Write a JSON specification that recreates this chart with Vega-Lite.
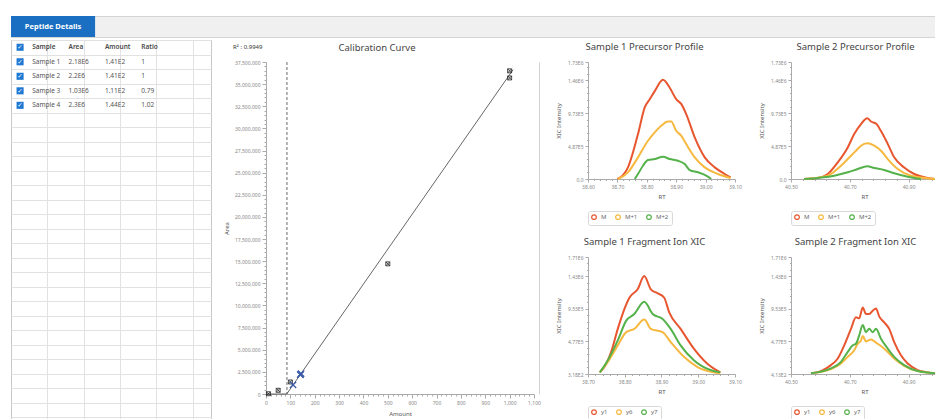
{
  "$schema": "https://vega.github.io/schema/vega-lite/v6.json",
  "padding": {"left": 10, "top": 15, "right": 0, "bottom": 0},
  "background": "white",
  "config": {
    "font": "Noto Sans",
    "view": {"stroke": null},
    "axis": {"labelFontSize": 5, "labelColor": "#888", "titleFontSize": 6, "titleFontWeight": "normal", "titleColor": "#555", "domainColor": "#aaa", "tickColor": "#aaa", "grid": false, "labelFlush": false, "labelOverlap": false},
    "title": {"fontSize": 9.5, "fontWeight": "normal", "color": "#444"},
    "legend": {"title": null, "orient": "bottom", "direction": "horizontal", "symbolType": "circle", "symbolSize": 22, "symbolStrokeWidth": 1.2, "labelFontSize": 6, "labelColor": "#666", "strokeColor": "#d8d8d8", "padding": 3, "cornerRadius": 2, "columnPadding": 6, "offset": 12}
  },
  "spacing": 1,
  "resolve": {"scale": {"color": "independent"}, "legend": {"color": "independent"}},
  "vconcat": [
    {
      "width": 925, "height": 21,
      "view": {"fill": "#f0f0f0", "stroke": "#d4d4d4"},
      "data": {"values": [{"tab": "Peptide Details"}]},
      "encoding": {"x": {"field": "tab", "type": "nominal", "scale": {"domain": ["Peptide Details", "a", "b", "c", "d", "e", "f", "g", "h", "i", "j"], "paddingInner": 0, "paddingOuter": 0}, "axis": null}},
      "layer": [
        {"mark": {"type": "rect", "color": "#1b6fc2"}},
        {"mark": {"type": "text", "color": "white", "fontWeight": "bold", "fontSize": 7.5}, "encoding": {"text": {"field": "tab"}}}
      ]
    },
    {
      "hconcat": [
        {
          "width": 200, "height": 392,
          "view": {"stroke": "#c8c8c8"},
          "data": {"values": [
            {"r": 0, "c": "chk", "t": "✓"}, {"r": 0, "c": "Sample", "t": "Sample"}, {"r": 0, "c": "Area", "t": "Area"}, {"r": 0, "c": "Amount", "t": "Amount"}, {"r": 0, "c": "Ratio", "t": "Ratio"},
            {"r": 1, "c": "chk", "t": "✓"}, {"r": 1, "c": "Sample", "t": "Sample 1"}, {"r": 1, "c": "Area", "t": "2.18E6"}, {"r": 1, "c": "Amount", "t": "1.41E2"}, {"r": 1, "c": "Ratio", "t": "1"},
            {"r": 2, "c": "chk", "t": "✓"}, {"r": 2, "c": "Sample", "t": "Sample 2"}, {"r": 2, "c": "Area", "t": "2.2E6"}, {"r": 2, "c": "Amount", "t": "1.41E2"}, {"r": 2, "c": "Ratio", "t": "1"},
            {"r": 3, "c": "chk", "t": "✓"}, {"r": 3, "c": "Sample", "t": "Sample 3"}, {"r": 3, "c": "Area", "t": "1.03E6"}, {"r": 3, "c": "Amount", "t": "1.11E2"}, {"r": 3, "c": "Ratio", "t": "0.79"},
            {"r": 4, "c": "chk", "t": "✓"}, {"r": 4, "c": "Sample", "t": "Sample 4"}, {"r": 4, "c": "Area", "t": "2.3E6"}, {"r": 4, "c": "Amount", "t": "1.44E2"}, {"r": 4, "c": "Ratio", "t": "1.02"}
          ]},
          "encoding": {
            "x": {"field": "c", "type": "nominal", "scale": {"domain": ["chk", "Sample", "_s", "Area", "_a", "Amount", "_m", "Ratio", "_r", "_e1", "_e2"], "paddingInner": 0, "paddingOuter": 0},
                  "axis": {"title": null, "labels": false, "ticks": false, "domain": false, "grid": true, "tickBand": "extent", "gridColor": "#e2e2e2", "orient": "top",
                           "gridOpacity": {"condition": {"test": "indexof(['Sample','Area','Amount','Ratio','_e1'], datum.value) >= 0", "value": 1}, "value": 0}}},
            "y": {"field": "r", "type": "ordinal", "scale": {"domain": [0,1,2,3,4,5,6,7,8,9,10,11,12,13,14,15,16,17,18,19,20,21,22,23,24,25,26], "paddingInner": 0, "paddingOuter": 0},
                  "axis": {"title": null, "labels": false, "ticks": false, "domain": false, "grid": true, "tickBand": "extent", "gridColor": "#e2e2e2"}}
          },
          "layer": [
            {"transform": [{"filter": "datum.c == 'chk'"}], "mark": {"type": "point", "shape": "square", "filled": true, "color": "#1f78d1", "size": 50, "opacity": 1}},
            {"transform": [{"filter": "datum.c == 'chk'"}], "mark": {"type": "text", "color": "white", "fontSize": 6.5, "fontWeight": "bold", "font": "DejaVu Sans"}, "encoding": {"text": {"field": "t"}}},
            {"transform": [{"filter": "datum.r == 0 && datum.c != 'chk'"}], "mark": {"type": "text", "align": "left", "dx": 3, "fontSize": 6.5, "fontWeight": 600, "color": "#4a4a4a"},
             "encoding": {"x": {"field": "c", "type": "nominal", "bandPosition": 0}, "text": {"field": "t"}}},
            {"transform": [{"filter": "datum.r > 0 && datum.c != 'chk'"}], "mark": {"type": "text", "align": "left", "dx": 3, "fontSize": 6.5, "color": "#555"},
             "encoding": {"x": {"field": "c", "type": "nominal", "bandPosition": 0}, "text": {"field": "t"}}}
          ]
        },
        {
          "vconcat": [
            {"width": 1, "height": 1, "data": {"values": [{}]}, "mark": {"type": "point", "size": 0, "opacity": 0}},
            {
              "hconcat": [
                {
                  "width": 268, "height": 332,
                  "title": {"text": "Calibration Curve", "offset": -9, "dx": -23},
                  "resolve": {"scale": {"y": "independent"}, "axis": {"y": "independent"}},
                  "layer": [
                    {
                      "layer": [
                        {
                          "data": {"values": [{"amount": 0, "area": 0}, {"amount": 85, "area": 0}, {"amount": 1014, "area": 36630000}]},
                          "mark": {"type": "line", "color": "#555", "strokeWidth": 0.9},
                          "encoding": {
                            "x": {"field": "amount", "type": "quantitative", "title": "Amount", "scale": {"domain": [0, 1100], "nice": false},
                                  "axis": {"tickCount": 55, "labelExpr": "datum.value % 100 == 0 ? format(datum.value, ',') : ''", "tickSize": {"condition": {"test": "datum.value % 100 == 0", "value": 4}, "value": 2}, "labelPadding": 2, "titlePadding": 5}},
                            "y": {"field": "area", "type": "quantitative", "title": "Area", "scale": {"domain": [0, 37500000], "nice": false},
                                  "axis": {"tickCount": 75, "labelExpr": "datum.value % 2500000 == 0 ? format(datum.value, ',') : ''", "tickSize": {"condition": {"test": "datum.value % 2500000 == 0", "value": 4}, "value": 2}, "labelPadding": 2, "titlePadding": 5}}
                          }
                        },
                        {
                          "data": {"values": [{}]},
                          "mark": {"type": "rule", "color": "#444", "strokeDash": [3, 2], "strokeWidth": 0.8},
                          "encoding": {"x": {"datum": 86, "type": "quantitative", "title": "Amount", "scale": {"domain": [0, 1100], "nice": false}}}
                        },
                        {
                          "data": {"values": [{"amount": 10, "area": 30000}, {"amount": 50, "area": 420000}, {"amount": 100, "area": 1360000}, {"amount": 500, "area": 14700000}, {"amount": 1000, "area": 35700000}, {"amount": 1000, "area": 36500000}]},
                          "mark": {"type": "point", "shape": "M-1,-1L1,1M1,-1L-1,1M-1,-1L1,-1L1,1L-1,1Z", "filled": false, "color": "#222", "size": 16, "strokeWidth": 0.8, "opacity": 1},
                          "encoding": {"x": {"field": "amount", "type": "quantitative", "title": "Amount", "scale": {"domain": [0, 1100], "nice": false}}, "y": {"field": "area", "type": "quantitative", "title": "Area", "scale": {"domain": [0, 37500000], "nice": false}}}
                        },
                        {
                          "data": {"values": [{"sample": "Sample 1", "amount": 141, "area": 2180000}, {"sample": "Sample 2", "amount": 141, "area": 2200000}, {"sample": "Sample 3", "amount": 111, "area": 1030000}, {"sample": "Sample 4", "amount": 144, "area": 2300000}]},
                          "mark": {"type": "point", "shape": "M-1,-1L1,1M1,-1L-1,1", "filled": false, "color": "#3b5ca8", "size": 40, "strokeWidth": 1.3, "opacity": 1},
                          "encoding": {"x": {"field": "amount", "type": "quantitative", "title": "Amount", "scale": {"domain": [0, 1100], "nice": false}}, "y": {"field": "area", "type": "quantitative", "title": "Area", "scale": {"domain": [0, 37500000], "nice": false}}}
                        },
                        {
                          "data": {"values": [{}]},
                          "mark": {"type": "text", "text": "R² : 0.9949", "align": "left", "baseline": "middle", "fontSize": 6, "color": "#333"},
                          "encoding": {"x": {"datum": -135, "type": "quantitative", "title": "Amount", "scale": {"domain": [0, 1100], "nice": false}}, "y": {"datum": 39200000, "type": "quantitative", "title": "Area", "scale": {"domain": [0, 37500000], "nice": false}}}
                        }
                      ]
                    },
                    {
                      "data": {"values": [{}]},
                      "mark": {"type": "rule", "opacity": 0},
                      "encoding": {"y": {"datum": 0, "type": "quantitative", "scale": {"domain": [0, 1]}, "axis": {"orient": "right", "offset": 5, "labels": false, "ticks": false, "title": null, "domainColor": "#d2d2d2", "domainWidth": 1}}}
                    }
                  ]
                },
                {
                  "spacing": 10,
                  "resolve": {"scale": {"color": "independent"}, "legend": {"color": "independent"}},
                  "vconcat": [
                    {
                      "spacing": 16,
                      "resolve": {"scale": {"color": "independent"}, "legend": {"color": "independent"}},
                      "hconcat": [
                        {
                          "width": 147, "height": 117,
                          "title": {"text": "Sample 1 Precursor Profile", "offset": 9, "dx": -17},
                          "data": {"values": [
                            {"ion": "M", "rt": 38.70, "v": 0}, {"ion": "M", "rt": 38.736, "v": 172000}, {"ion": "M", "rt": 38.770, "v": 664000}, {"ion": "M", "rt": 38.793, "v": 1060000}, {"ion": "M", "rt": 38.810, "v": 1180000}, {"ion": "M", "rt": 38.827, "v": 1300000}, {"ion": "M", "rt": 38.855, "v": 1466000}, {"ion": "M", "rt": 38.878, "v": 1350000}, {"ion": "M", "rt": 38.900, "v": 1180000}, {"ion": "M", "rt": 38.917, "v": 1110000}, {"ion": "M", "rt": 38.934, "v": 960000}, {"ion": "M", "rt": 38.963, "v": 615000}, {"ion": "M", "rt": 38.997, "v": 320000}, {"ion": "M", "rt": 39.031, "v": 172000}, {"ion": "M", "rt": 39.065, "v": 74000}, {"ion": "M", "rt": 39.085, "v": 25000},
                            {"ion": "M+1", "rt": 38.702, "v": 0}, {"ion": "M+1", "rt": 38.736, "v": 99000}, {"ion": "M+1", "rt": 38.770, "v": 320000}, {"ion": "M+1", "rt": 38.804, "v": 566000}, {"ion": "M+1", "rt": 38.827, "v": 689000}, {"ion": "M+1", "rt": 38.849, "v": 787000}, {"ion": "M+1", "rt": 38.872, "v": 851000}, {"ion": "M+1", "rt": 38.883, "v": 851000}, {"ion": "M+1", "rt": 38.900, "v": 713000}, {"ion": "M+1", "rt": 38.917, "v": 640000}, {"ion": "M+1", "rt": 38.934, "v": 517000}, {"ion": "M+1", "rt": 38.963, "v": 320000}, {"ion": "M+1", "rt": 38.997, "v": 172000}, {"ion": "M+1", "rt": 39.042, "v": 74000}, {"ion": "M+1", "rt": 39.085, "v": 15000},
                            {"ion": "M+2", "rt": 38.759, "v": 0}, {"ion": "M+2", "rt": 38.770, "v": 74000}, {"ion": "M+2", "rt": 38.787, "v": 196000}, {"ion": "M+2", "rt": 38.804, "v": 280000}, {"ion": "M+2", "rt": 38.827, "v": 295000}, {"ion": "M+2", "rt": 38.855, "v": 330000}, {"ion": "M+2", "rt": 38.878, "v": 295000}, {"ion": "M+2", "rt": 38.906, "v": 270000}, {"ion": "M+2", "rt": 38.929, "v": 220000}, {"ion": "M+2", "rt": 38.946, "v": 133000}, {"ion": "M+2", "rt": 38.974, "v": 99000}, {"ion": "M+2", "rt": 39.002, "v": 49000}, {"ion": "M+2", "rt": 39.019, "v": 0}
                          ]},
                          "mark": {"type": "line", "strokeWidth": 2, "interpolate": "monotone"},
                          "encoding": {
                            "x": {"field": "rt", "type": "quantitative", "title": "RT", "scale": {"domain": [38.6, 39.1], "nice": false, "zero": false},
                                  "axis": {"values": [38.6, 38.62, 38.64, 38.66, 38.68, 38.7, 38.72, 38.74, 38.76, 38.78, 38.8, 38.82, 38.84, 38.86, 38.88, 38.9, 38.92, 38.94, 38.96, 38.98, 39.0, 39.02, 39.04, 39.06, 39.08, 39.1],
                                           "labelExpr": "abs(datum.value*10 - round(datum.value*10)) < 0.01 ? format(datum.value, '.2f') : ''",
                                           "tickSize": {"condition": {"test": "abs(datum.value*10 - round(datum.value*10)) < 0.01", "value": 3}, "value": 1.5}, "labelPadding": 2, "titlePadding": 4}},
                            "y": {"field": "v", "type": "quantitative", "title": "XIC Intensity", "scale": {"domain": [0, 1730000], "nice": false, "zero": false},
                                  "axis": {"values": [0, 97300, 194600, 291900, 389200, 486500, 583800, 681100, 778400, 875700, 973000, 1070300, 1167600, 1264900, 1362200, 1459500, 1556800, 1654100, 1730000],
                                           "labelExpr": "datum.value == 0 ? '0.0' : (datum.value % 486500 == 0 || datum.value == 1730000) ? replace(format(datum.value, '.2e'), 'e+', 'E') : ''",
                                           "tickSize": {"condition": {"test": "datum.value % 486500 == 0 || datum.value == 1730000", "value": 3}, "value": 1.5}, "labelPadding": 2, "titlePadding": 6}},
                            "color": {"field": "ion", "type": "nominal", "scale": {"domain": ["M", "M+1", "M+2"], "range": ["#e8562f", "#f6b83e", "#55b24b"]}}
                          }
                        },
                        {
                          "width": 147, "height": 117,
                          "title": {"text": "Sample 2 Precursor Profile", "offset": 9, "dx": -9},
                          "data": {"values": [
                            {"ion": "M", "rt": 40.545, "v": 0}, {"ion": "M", "rt": 40.591, "v": 15000}, {"ion": "M", "rt": 40.625, "v": 74000}, {"ion": "M", "rt": 40.659, "v": 246000}, {"ion": "M", "rt": 40.693, "v": 467000}, {"ion": "M", "rt": 40.715, "v": 664000}, {"ion": "M", "rt": 40.738, "v": 812000}, {"ion": "M", "rt": 40.759, "v": 900000}, {"ion": "M", "rt": 40.772, "v": 850000}, {"ion": "M", "rt": 40.789, "v": 820000}, {"ion": "M", "rt": 40.806, "v": 710000}, {"ion": "M", "rt": 40.829, "v": 520000}, {"ion": "M", "rt": 40.851, "v": 320000}, {"ion": "M", "rt": 40.885, "v": 170000}, {"ion": "M", "rt": 40.919, "v": 74000}, {"ion": "M", "rt": 40.965, "v": 15000}, {"ion": "M", "rt": 40.993, "v": 0},
                            {"ion": "M+1", "rt": 40.545, "v": 0}, {"ion": "M+1", "rt": 40.625, "v": 50000}, {"ion": "M+1", "rt": 40.670, "v": 197000}, {"ion": "M+1", "rt": 40.704, "v": 344000}, {"ion": "M+1", "rt": 40.721, "v": 418000}, {"ion": "M+1", "rt": 40.738, "v": 492000}, {"ion": "M+1", "rt": 40.759, "v": 527000}, {"ion": "M+1", "rt": 40.783, "v": 492000}, {"ion": "M+1", "rt": 40.806, "v": 418000}, {"ion": "M+1", "rt": 40.829, "v": 295000}, {"ion": "M+1", "rt": 40.863, "v": 148000}, {"ion": "M+1", "rt": 40.908, "v": 49000}, {"ion": "M+1", "rt": 40.993, "v": 0},
                            {"ion": "M+2", "rt": 40.545, "v": 0}, {"ion": "M+2", "rt": 40.647, "v": 49000}, {"ion": "M+2", "rt": 40.693, "v": 99000}, {"ion": "M+2", "rt": 40.727, "v": 148000}, {"ion": "M+2", "rt": 40.759, "v": 187000}, {"ion": "M+2", "rt": 40.783, "v": 162000}, {"ion": "M+2", "rt": 40.817, "v": 133000}, {"ion": "M+2", "rt": 40.851, "v": 84000}, {"ion": "M+2", "rt": 40.897, "v": 34000}, {"ion": "M+2", "rt": 40.942, "v": 0}
                          ]},
                          "mark": {"type": "line", "strokeWidth": 2, "interpolate": "monotone"},
                          "encoding": {
                            "x": {"field": "rt", "type": "quantitative", "title": "RT", "scale": {"domain": [40.5, 41.0], "nice": false, "zero": false},
                                  "axis": {"values": [40.5, 40.54, 40.58, 40.62, 40.66, 40.7, 40.74, 40.78, 40.82, 40.86, 40.9, 40.94, 40.98],
                                           "labelExpr": "abs((datum.value-40.5)*5 - round((datum.value-40.5)*5)) < 0.01 ? format(datum.value, '.2f') : ''",
                                           "tickSize": {"condition": {"test": "abs((datum.value-40.5)*5 - round((datum.value-40.5)*5)) < 0.01", "value": 3}, "value": 1.5}, "labelPadding": 2, "titlePadding": 4}},
                            "y": {"field": "v", "type": "quantitative", "title": "XIC Intensity", "scale": {"domain": [0, 1730000], "nice": false, "zero": false},
                                  "axis": {"values": [0, 97300, 194600, 291900, 389200, 486500, 583800, 681100, 778400, 875700, 973000, 1070300, 1167600, 1264900, 1362200, 1459500, 1556800, 1654100, 1730000],
                                           "labelExpr": "datum.value == 0 ? '0.0' : (datum.value % 486500 == 0 || datum.value == 1730000) ? replace(format(datum.value, '.2e'), 'e+', 'E') : ''",
                                           "tickSize": {"condition": {"test": "datum.value % 486500 == 0 || datum.value == 1730000", "value": 3}, "value": 1.5}, "labelPadding": 2, "titlePadding": 6}},
                            "color": {"field": "ion", "type": "nominal", "scale": {"domain": ["M", "M+1", "M+2"], "range": ["#e8562f", "#f6b83e", "#55b24b"]}}
                          }
                        }
                      ]
                    },
                    {
                      "spacing": 16,
                      "resolve": {"scale": {"color": "independent"}, "legend": {"color": "independent"}},
                      "hconcat": [
                        {
                          "width": 147, "height": 117,
                          "title": {"text": "Sample 1 Fragment Ion XIC", "offset": 9, "dx": -17},
                          "data": {"values": [
                            {"ion": "y1", "rt": 38.732, "v": 24000}, {"ion": "y1", "rt": 38.745, "v": 106000}, {"ion": "y1", "rt": 38.763, "v": 323000}, {"ion": "y1", "rt": 38.781, "v": 660000}, {"ion": "y1", "rt": 38.799, "v": 949000}, {"ion": "y1", "rt": 38.813, "v": 1118000}, {"ion": "y1", "rt": 38.835, "v": 1238000}, {"ion": "y1", "rt": 38.853, "v": 1431000}, {"ion": "y1", "rt": 38.871, "v": 1238000}, {"ion": "y1", "rt": 38.889, "v": 1181000}, {"ion": "y1", "rt": 38.907, "v": 1118000}, {"ion": "y1", "rt": 38.921, "v": 901000}, {"ion": "y1", "rt": 38.952, "v": 660000}, {"ion": "y1", "rt": 38.988, "v": 371000}, {"ion": "y1", "rt": 39.024, "v": 154000}, {"ion": "y1", "rt": 39.060, "v": 24000},
                            {"ion": "y6", "rt": 38.732, "v": 24000}, {"ion": "y6", "rt": 38.754, "v": 178000}, {"ion": "y6", "rt": 38.781, "v": 419000}, {"ion": "y6", "rt": 38.804, "v": 612000}, {"ion": "y6", "rt": 38.826, "v": 660000}, {"ion": "y6", "rt": 38.853, "v": 795000}, {"ion": "y6", "rt": 38.871, "v": 660000}, {"ion": "y6", "rt": 38.903, "v": 612000}, {"ion": "y6", "rt": 38.925, "v": 467000}, {"ion": "y6", "rt": 38.961, "v": 251000}, {"ion": "y6", "rt": 38.997, "v": 106000}, {"ion": "y6", "rt": 39.042, "v": 24000}, {"ion": "y6", "rt": 39.060, "v": 10000},
                            {"ion": "y7", "rt": 38.732, "v": 24000}, {"ion": "y7", "rt": 38.754, "v": 202000}, {"ion": "y7", "rt": 38.781, "v": 491000}, {"ion": "y7", "rt": 38.804, "v": 780000}, {"ion": "y7", "rt": 38.826, "v": 877000}, {"ion": "y7", "rt": 38.853, "v": 1055000}, {"ion": "y7", "rt": 38.876, "v": 877000}, {"ion": "y7", "rt": 38.903, "v": 805000}, {"ion": "y7", "rt": 38.925, "v": 660000}, {"ion": "y7", "rt": 38.952, "v": 419000}, {"ion": "y7", "rt": 38.988, "v": 202000}, {"ion": "y7", "rt": 39.033, "v": 58000}, {"ion": "y7", "rt": 39.060, "v": 24000}
                          ]},
                          "mark": {"type": "line", "strokeWidth": 2, "interpolate": "monotone"},
                          "encoding": {
                            "x": {"field": "rt", "type": "quantitative", "title": "RT", "scale": {"domain": [38.7, 39.1], "nice": false, "zero": false},
                                  "axis": {"values": [38.7, 38.72, 38.74, 38.76, 38.78, 38.8, 38.82, 38.84, 38.86, 38.88, 38.9, 38.92, 38.94, 38.96, 38.98, 39.0, 39.02, 39.04, 39.06, 39.08, 39.1],
                                           "labelExpr": "abs(datum.value*10 - round(datum.value*10)) < 0.01 ? format(datum.value, '.2f') : ''",
                                           "tickSize": {"condition": {"test": "abs(datum.value*10 - round(datum.value*10)) < 0.01", "value": 3}, "value": 1.5}, "labelPadding": 2, "titlePadding": 4}},
                            "y": {"field": "v", "type": "quantitative", "title": "XIC Intensity", "scale": {"domain": [318, 1710000], "nice": false, "zero": false},
                                  "axis": {"values": [318, 95618, 190918, 286218, 381518, 476818, 572118, 667418, 762718, 858018, 953318, 1048618, 1143918, 1239218, 1334518, 1429818, 1525118, 1620418, 1710000],
                                           "labelExpr": "((datum.value - 318) % 476500 == 0 || datum.value == 1710000) ? replace(format(datum.value, '.2e'), 'e+', 'E') : ''",
                                           "tickSize": {"condition": {"test": "(datum.value - 318) % 476500 == 0 || datum.value == 1710000", "value": 3}, "value": 1.5}, "labelPadding": 2, "titlePadding": 6}},
                            "color": {"field": "ion", "type": "nominal", "scale": {"domain": ["y1", "y6", "y7"], "range": ["#e8562f", "#f6b83e", "#55b24b"]}}
                          }
                        },
                        {
                          "width": 147, "height": 117,
                          "title": {"text": "Sample 2 Fragment Ion XIC", "offset": 9, "dx": -9},
                          "data": {"values": [
                            {"ion": "y1", "rt": 40.568, "v": 10000}, {"ion": "y1", "rt": 40.602, "v": 43000}, {"ion": "y1", "rt": 40.636, "v": 130000}, {"ion": "y1", "rt": 40.659, "v": 227000}, {"ion": "y1", "rt": 40.681, "v": 419000}, {"ion": "y1", "rt": 40.704, "v": 660000}, {"ion": "y1", "rt": 40.721, "v": 829000}, {"ion": "y1", "rt": 40.732, "v": 814000}, {"ion": "y1", "rt": 40.744, "v": 973000}, {"ion": "y1", "rt": 40.755, "v": 877000}, {"ion": "y1", "rt": 40.766, "v": 877000}, {"ion": "y1", "rt": 40.778, "v": 925000}, {"ion": "y1", "rt": 40.789, "v": 959000}, {"ion": "y1", "rt": 40.800, "v": 843000}, {"ion": "y1", "rt": 40.817, "v": 756000}, {"ion": "y1", "rt": 40.834, "v": 660000}, {"ion": "y1", "rt": 40.851, "v": 467000}, {"ion": "y1", "rt": 40.874, "v": 275000}, {"ion": "y1", "rt": 40.897, "v": 154000}, {"ion": "y1", "rt": 40.931, "v": 58000}, {"ion": "y1", "rt": 40.965, "v": 24000}, {"ion": "y1", "rt": 40.993, "v": 10000},
                            {"ion": "y6", "rt": 40.568, "v": 10000}, {"ion": "y6", "rt": 40.636, "v": 72000}, {"ion": "y6", "rt": 40.670, "v": 154000}, {"ion": "y6", "rt": 40.693, "v": 251000}, {"ion": "y6", "rt": 40.715, "v": 347000}, {"ion": "y6", "rt": 40.727, "v": 443000}, {"ion": "y6", "rt": 40.738, "v": 491000}, {"ion": "y6", "rt": 40.744, "v": 554000}, {"ion": "y6", "rt": 40.755, "v": 477000}, {"ion": "y6", "rt": 40.772, "v": 506000}, {"ion": "y6", "rt": 40.789, "v": 458000}, {"ion": "y6", "rt": 40.806, "v": 410000}, {"ion": "y6", "rt": 40.829, "v": 323000}, {"ion": "y6", "rt": 40.851, "v": 226000}, {"ion": "y6", "rt": 40.885, "v": 120000}, {"ion": "y6", "rt": 40.931, "v": 43000}, {"ion": "y6", "rt": 40.993, "v": 10000},
                            {"ion": "y7", "rt": 40.568, "v": 10000}, {"ion": "y7", "rt": 40.636, "v": 82000}, {"ion": "y7", "rt": 40.670, "v": 178000}, {"ion": "y7", "rt": 40.693, "v": 323000}, {"ion": "y7", "rt": 40.710, "v": 419000}, {"ion": "y7", "rt": 40.721, "v": 443000}, {"ion": "y7", "rt": 40.732, "v": 564000}, {"ion": "y7", "rt": 40.744, "v": 718000}, {"ion": "y7", "rt": 40.755, "v": 612000}, {"ion": "y7", "rt": 40.766, "v": 660000}, {"ion": "y7", "rt": 40.778, "v": 612000}, {"ion": "y7", "rt": 40.789, "v": 660000}, {"ion": "y7", "rt": 40.806, "v": 516000}, {"ion": "y7", "rt": 40.829, "v": 371000}, {"ion": "y7", "rt": 40.851, "v": 251000}, {"ion": "y7", "rt": 40.885, "v": 130000}, {"ion": "y7", "rt": 40.931, "v": 43000}, {"ion": "y7", "rt": 40.993, "v": 10000}
                          ]},
                          "mark": {"type": "line", "strokeWidth": 2, "interpolate": "monotone"},
                          "encoding": {
                            "x": {"field": "rt", "type": "quantitative", "title": "RT", "scale": {"domain": [40.5, 41.0], "nice": false, "zero": false},
                                  "axis": {"values": [40.5, 40.54, 40.58, 40.62, 40.66, 40.7, 40.74, 40.78, 40.82, 40.86, 40.9, 40.94, 40.98],
                                           "labelExpr": "abs((datum.value-40.5)*5 - round((datum.value-40.5)*5)) < 0.01 ? format(datum.value, '.2f') : ''",
                                           "tickSize": {"condition": {"test": "abs((datum.value-40.5)*5 - round((datum.value-40.5)*5)) < 0.01", "value": 3}, "value": 1.5}, "labelPadding": 2, "titlePadding": 4}},
                            "y": {"field": "v", "type": "quantitative", "title": "XIC Intensity", "scale": {"domain": [413, 1710000], "nice": false, "zero": false},
                                  "axis": {"values": [413, 95713, 191013, 286313, 381613, 476913, 572213, 667513, 762813, 858113, 953413, 1048713, 1144013, 1239313, 1334613, 1429913, 1525213, 1620513, 1710000],
                                           "labelExpr": "((datum.value - 413) % 476500 == 0 || datum.value == 1710000) ? replace(format(datum.value, '.2e'), 'e+', 'E') : ''",
                                           "tickSize": {"condition": {"test": "(datum.value - 413) % 476500 == 0 || datum.value == 1710000", "value": 3}, "value": 1.5}, "labelPadding": 2, "titlePadding": 6}},
                            "color": {"field": "ion", "type": "nominal", "scale": {"domain": ["y1", "y6", "y7"], "range": ["#e8562f", "#f6b83e", "#55b24b"]}}
                          }
                        }
                      ]
                    }
                  ]
                }
              ],
              "spacing": 14,
              "resolve": {"scale": {"color": "independent"}, "legend": {"color": "independent"}}
            }
          ],
          "spacing": 0,
          "resolve": {"scale": {"color": "independent"}, "legend": {"color": "independent"}}
        }
      ],
      "spacing": 11,
      "resolve": {"scale": {"color": "independent"}, "legend": {"color": "independent"}}
    }
  ]
}
